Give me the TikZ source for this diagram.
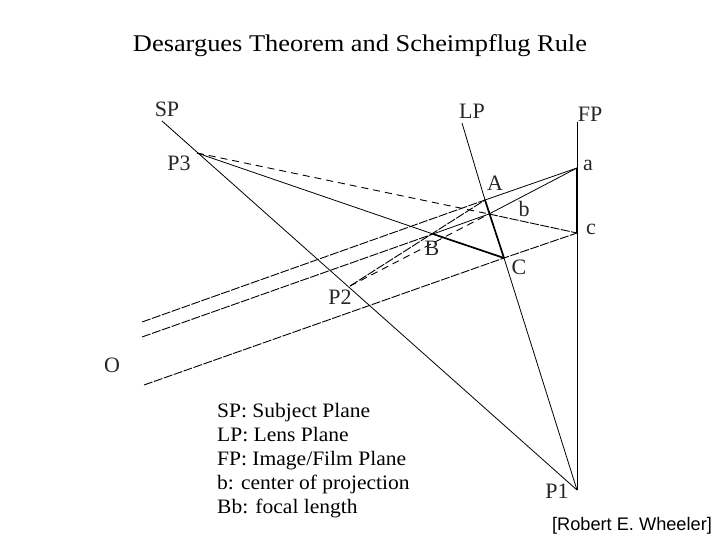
\documentclass[tikz,border=0pt]{standalone}
\usepackage{fontspec}
\setmainfont{Liberation Serif}
\newfontfamily\credfont{Liberation Sans}
\newfontfamily\widefont[FakeStretch=1.1]{Liberation Serif}
\newfontfamily\legfont[FakeStretch=1.05]{Liberation Serif}
\tikzset{
  thinline/.style={draw=black,line width=0.8pt},
  thickline/.style={draw=black,line width=1.7pt},
  rayline/.style={draw=black,line width=0.9pt,dash pattern=on 9pt off 1.5pt},
  dashline/.style={draw=black,line width=0.9pt,dash pattern=on 7pt off 5pt},
  lbl/.style={inner sep=0pt,font=\fontsize{22}{22}\selectfont,text=black!85},
  titletext/.style={inner sep=0pt,font=\widefont\fontsize{24}{26}\selectfont},
  legend/.style={inner sep=0pt,align=left,anchor=north west,font=\legfont\fontsize{20.5}{24}\selectfont},
  credit/.style={inner sep=0pt,font=\credfont\fontsize{18.2}{22}\selectfont}
}
\begin{document}
\begin{tikzpicture}[x=1pt,y=-1pt]
\useasboundingbox (0,0) rectangle (720,540);
\coordinate (spt) at (162,121);
\coordinate (P3) at (197,153);
\coordinate (P1) at (577,490);
\coordinate (fpt) at (577,122);
\coordinate (a) at (577,168);
\coordinate (c) at (577,233);
\coordinate (lpt) at (462,123);
\coordinate (A) at (485,200);
\coordinate (b) at (489,214);
\coordinate (B) at (433,234);
\coordinate (C) at (504,258);
\coordinate (P2) at (350,286);
\coordinate (o1) at (142,322);
\coordinate (o2) at (142,337);
\coordinate (o3) at (144,385);
% planes
\draw[thinline] (spt) -- (P1);
\draw[thinline] (fpt) -- (P1);
\draw[thinline] (lpt) -- (A);
\draw[thinline] (C) -- (P1);
% thick segments
\draw[thickline] (a) -- (c);
\draw[thickline] (A) -- (C);
\draw[thickline] (B) -- (C);
% rays from the left
\draw[rayline] (o1) -- (A);
\draw[thinline] (A) -- (a);
\draw[rayline] (o2) -- (B);
\draw[rayline] (o3) -- (C) -- (c);
% through lens centre
\draw[thinline] (B) -- (b) -- (a);
\draw[rayline] (b) -- (c);
% from P3 and P2
\draw[thinline] (P3) -- (B);
\draw[dashline] (P3) -- (b);
\draw[rayline] (P2) -- (A);
\draw[dashline] (P2) -- (b);
% labels
\node[titletext] (title) at (360,46) {Desargues Theorem and Scheimpflug Rule};
\node[lbl] (lSP) at (167,109) {SP};
\node[lbl] (lLP) at (472,111) {LP};
\node[lbl] (lFP) at (590,114) {FP};
\node[lbl] (lP3) at (179,163) {P3};
\node[lbl] (la) at (588,165) {a};
\node[lbl] (lA) at (495,183) {A};
\node[lbl] (lb) at (524,209) {b};
\node[lbl] (lc) at (591,229) {c};
\node[lbl] (lB) at (432,248) {B};
\node[lbl] (lC) at (519,267) {C};
\node[lbl] (lP2) at (340,297) {P2};
\node[lbl] (lO) at (112,365) {O};
\node[lbl] (lP1) at (557,491) {P1};
\node[legend] (leg) at (217,403) {SP: Subject Plane\\LP: Lens Plane\\FP: Image/Film Plane\\b: center of projection\\Bb: focal length};
\node[credit] (cred) at (632,526) {[Robert E. Wheeler]};
\end{tikzpicture}
\end{document}
